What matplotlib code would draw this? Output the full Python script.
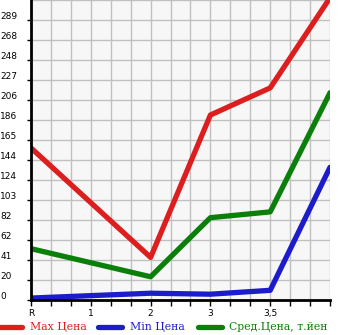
import matplotlib
matplotlib.use("Agg")
import matplotlib.pyplot as plt
from matplotlib.lines import Line2D

# Data
x_pos = [0, 120, 180, 240, 300]
max_price = [157, 44, 191, 219, 312]
min_price = [2, 7, 6, 10, 137]
avg_price = [53, 24, 85, 91, 214]

xtick_pos = [0, 60, 120, 180, 240]
xtick_labels = ["R", "1", "2", "3", "3,5"]
ytick_labels = ["0", "20", "41", "62", "82", "103", "124", "144", "165", "186",
                "206", "227", "248", "268", "289"]
y_step = 20.65

legend_labels = ["Max Цена", "Min Цена", "Сред.Цена, т.йен"]
colors = ["#dd1e1e", "#1c1ccc", "#0a7f0a"]

W, H = 345, 335
fig = plt.figure(figsize=(W / 100, H / 100), dpi=100)
ax = fig.add_axes([31 / W, (H - 300) / H, 299 / W, 300 / H])
ax.set_facecolor("#f7f7f7")

ax.set_xlim(0, 300)
ax.set_ylim(0, 15 * y_step)

for xv in range(0, 301, 20):
    ax.axvline(xv, color="#c0c0c0", lw=1.0, zorder=1)
for k in range(1, 16):
    ax.axhline(k * y_step, color="#c0c0c0", lw=1.0, zorder=1)

series = [max_price, min_price, avg_price]
for vals, c in zip(series, colors):
    ax.plot(x_pos, vals, color=c, lw=3.8, solid_capstyle="round",
            solid_joinstyle="round", zorder=3)

ytick_pos = [k * y_step for k in range(15)]
ax.set_yticks(ytick_pos)
ax.set_yticklabels([""] * 15)
for p, lab in zip(ytick_pos, ytick_labels):
    ax.text(-31, p + 4, lab, ha="left", va="center", fontsize=6.5,
            family="DejaVu Sans", clip_on=False)
ax.set_xticks(list(range(0, 301, 20)))
ax.set_xticklabels([""] * 16)
for p, lab in zip(xtick_pos, xtick_labels):
    ax.text(p, -9, lab, ha="center", va="top", fontsize=6.5,
            family="DejaVu Sans", clip_on=False)

ax.tick_params(axis="y", length=3, width=1, pad=1, colors="black")
ax.tick_params(axis="x", length=4, width=1, pad=1, colors="black")

for s in ["top", "right"]:
    ax.spines[s].set_visible(False)
ax.spines["left"].set_linewidth(2)
ax.spines["bottom"].set_linewidth(2)
ax.spines["left"].set_zorder(4)
ax.spines["bottom"].set_zorder(4)

# Legend
ly = 1 - 327 / H
items = [(0, 22, 30), (98, 122, 130), (198, 222, 229)]
for (x0, x1, tx), lab, c in zip(items, legend_labels, colors):
    fig.add_artist(Line2D([x0 / W, x1 / W], [ly, ly], color=c, lw=3.8,
                          solid_capstyle="round", transform=fig.transFigure))
    fig.text(tx / W, ly, lab, color=c, fontsize=7.8, family="DejaVu Serif",
             ha="left", va="center")

fig.savefig("out.png", dpi=100)
